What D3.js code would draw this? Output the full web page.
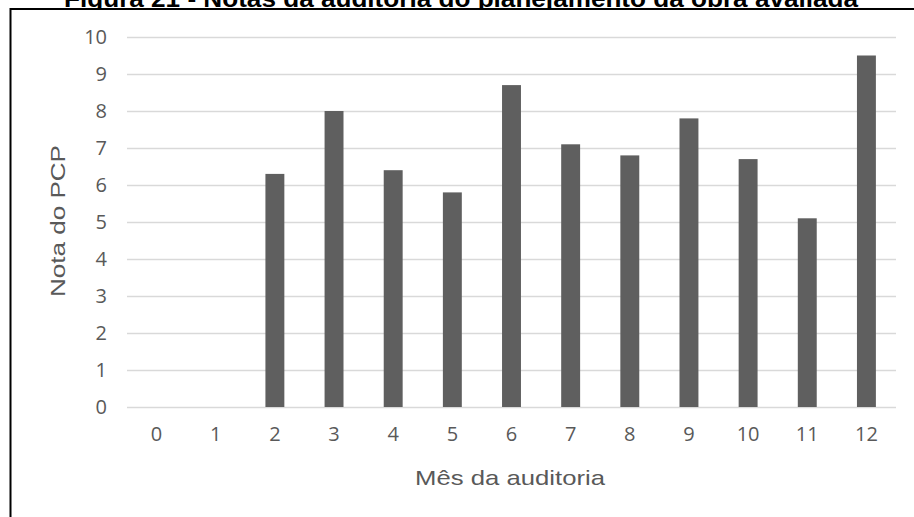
<!DOCTYPE html>
<html>
<head>
<meta charset="utf-8">
<script src="https://cdn.jsdelivr.net/npm/d3@7"></script>
<style>
  html, body { margin: 0; padding: 0; background: #fff; }
  svg { display: block; }
</style>
</head>
<body>
<svg id="chart" width="914" height="517"></svg>
<script>
// Meses da auditoria e notas do PCP
const meses = [0, 1, 2, 3, 4, 5, 6, 7, 8, 9, 10, 11, 12];
const notas = [0, 0, 6.3, 8.0, 6.4, 5.8, 8.7, 7.1, 6.8, 7.8, 6.7, 5.1, 9.5];
const yTicks = [0, 1, 2, 3, 4, 5, 6, 7, 8, 9, 10];

const titulo = "Figura 21 - Notas da auditoria do planejamento da obra avaliada";
const tituloX = "Mês da auditoria";
const tituloY = "Nota do PCP";

const svg = d3.select("#chart");
const W = 914, H = 517;

const x = d3.scaleBand().domain(meses).range([127, 896]).padding(0);
const y = d3.scaleLinear().domain([0, 10]).range([407, 37]);
const barW = x.bandwidth() * 0.32;

// Figure caption (partly covered by the chart frame)
svg.append("text")
  .attr("x", 461).attr("y", 7)
  .attr("text-anchor", "middle")
  .attr("font-family", "'Liberation Sans', Arial, sans-serif")
  .attr("font-weight", "bold")
  .attr("font-size", 24)
  .attr("textLength", 794)
  .attr("lengthAdjust", "spacingAndGlyphs")
  .attr("fill", "#000")
  .text(titulo);

// Chart frame
svg.append("rect")
  .attr("x", 10.5).attr("y", 9)
  .attr("width", W + 20).attr("height", H + 20)
  .attr("fill", "#fff")
  .attr("stroke", "#000")
  .attr("stroke-width", 2);

// Gridlines
const yAxis = d3.axisLeft(y).tickValues(yTicks).tickSize(-(896 - 127)).tickFormat(d3.format("d")).tickPadding(20);
const gy = svg.append("g").attr("transform", "translate(127,0)").call(yAxis);
gy.select(".domain").remove();
gy.selectAll(".tick line").attr("stroke", "#d9d9d9").attr("stroke-width", 1.5);
gy.selectAll(".tick text")
  .attr("font-family", "'Open Sans', sans-serif")
  .attr("font-size", 20)
  .attr("fill", "#595959");

// Bars
svg.append("g").selectAll("rect")
  .data(meses.map((m, i) => ({ m, v: notas[i] })).filter(d => d.v > 0))
  .join("rect")
  .attr("x", d => x(d.m) + x.bandwidth() / 2 - barW / 2)
  .attr("y", d => y(d.v))
  .attr("width", barW)
  .attr("height", d => y(0) - y(d.v))
  .attr("fill", "#5f5f5f");

// X axis labels
const xAxis = d3.axisBottom(x).tickSize(0).tickPadding(20);
const gx = svg.append("g").attr("transform", `translate(0,${y(0)})`).call(xAxis);
gx.select(".domain").remove();
gx.selectAll(".tick text")
  .attr("font-family", "'Open Sans', sans-serif")
  .attr("font-size", 20)
  .attr("fill", "#595959");

// Axis titles
svg.append("text")
  .attr("x", 510).attr("y", 485)
  .attr("text-anchor", "middle")
  .attr("font-family", "'Liberation Sans', Arial, sans-serif")
  .attr("font-size", 21)
  .attr("textLength", 190)
  .attr("lengthAdjust", "spacingAndGlyphs")
  .attr("fill", "#595959")
  .text(tituloX);

svg.append("text")
  .attr("transform", "translate(65,221) rotate(-90)")
  .attr("text-anchor", "middle")
  .attr("font-family", "'Liberation Sans', Arial, sans-serif")
  .attr("font-size", 21)
  .attr("textLength", 152)
  .attr("lengthAdjust", "spacingAndGlyphs")
  .attr("fill", "#595959")
  .text(tituloY);
</script>
</body>
</html>
